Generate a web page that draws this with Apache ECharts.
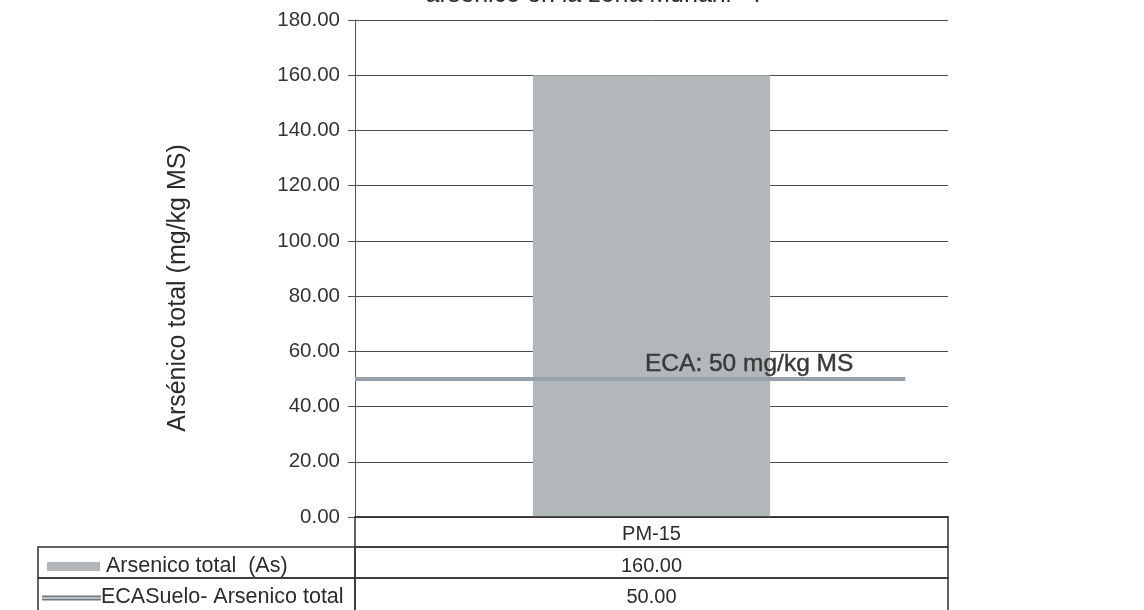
<!DOCTYPE html>
<html><head><meta charset="utf-8">
<script src="https://cdn.jsdelivr.net/npm/echarts@6/dist/echarts.min.js"></script>
<style>html,body{margin:0;padding:0;background:#fff}#c{width:1144px;height:610px}</style>
</head><body><div id="c"></div>
<script>
var titleText = 'arsénico en la zona Muñani - I';
var yAxisName = 'Arsénico total (mg/kg MS)';
var categories = ['PM-15'];
var seriesNames = ['Arsenico total  (As)', 'ECASuelo- Arsenico total'];
var arsenico = [160.00];
var eca = [50.00];
var yTicks = [0, 20, 40, 60, 80, 100, 120, 140, 160, 180];
var ecaLabel = 'ECA: 50 mg/kg MS';

var FONT = '"Liberation Sans", Arial, sans-serif';
var TXT = '#2b2b2b';
var BAR = '#b2b7ba';
var LINE = '#96a0a9';
var BORDER = '#333';

var gL = 355, gR = 948, gT = 20, gB = 517;
var rowH = [gB, 547, 578, 612];
var tblLeft = 38;

var chart = echarts.init(document.getElementById('c'), null, {renderer: 'canvas'});

var graphics = [];
// y axis title
graphics.push({type: 'text', x: 178, y: 288, rotation: Math.PI / 2,
  style: {text: yAxisName, font: '25px ' + FONT, fill: TXT, textAlign: 'center', textVerticalAlign: 'middle'}, z: 11});
// header row
graphics.push({type: 'rect', shape: {x: gL, y: rowH[0], width: gR - gL, height: rowH[1] - rowH[0]},
  style: {fill: 'none', stroke: BORDER, lineWidth: 1.5}, z: 10});
graphics.push({type: 'text', x: (gL + gR) / 2, y: (rowH[0] + rowH[1]) / 2 + 2,
  style: {text: categories[0], font: '20px ' + FONT, fill: TXT, textAlign: 'center', textVerticalAlign: 'middle'}, z: 11});
var rowVals = [arsenico, eca];
for (var r = 0; r < 2; r++) {
  var y0 = rowH[r + 1], y1 = rowH[r + 2];
  var ty = r === 0 ? 566 : 597;
  graphics.push({type: 'rect', shape: {x: tblLeft, y: y0, width: gL - tblLeft, height: y1 - y0},
    style: {fill: 'none', stroke: BORDER, lineWidth: 1.5}, z: 10});
  graphics.push({type: 'rect', shape: {x: gL, y: y0, width: gR - gL, height: y1 - y0},
    style: {fill: 'none', stroke: BORDER, lineWidth: 1.5}, z: 10});
  graphics.push({type: 'text', x: (gL + gR) / 2, y: ty,
    style: {text: rowVals[r][0].toFixed(2), font: '20px ' + FONT, fill: TXT, textAlign: 'center', textVerticalAlign: 'middle'}, z: 11});
  graphics.push({type: 'text', x: r === 0 ? 106 : 101, y: ty,
    style: {text: seriesNames[r], font: '21.5px ' + FONT, fill: TXT, textAlign: 'left', textVerticalAlign: 'middle'}, z: 11});
}
// legend keys
graphics.push({type: 'rect', shape: {x: 47, y: 562, width: 53, height: 9}, style: {fill: BAR}, z: 11});
graphics.push({type: 'line', shape: {x1: 42, y1: 598, x2: 101, y2: 598}, style: {stroke: '#6f7880', lineWidth: 5}, z: 11});
graphics.push({type: 'line', shape: {x1: 42, y1: 598, x2: 101, y2: 598}, style: {stroke: '#b8c0c6', lineWidth: 2}, z: 12});
// ECA label
graphics.push({type: 'text', x: 645, y: 364,
  style: {text: ecaLabel, font: '24.5px ' + FONT, fill: '#383838', textAlign: 'left', textVerticalAlign: 'middle', stroke: '#383838', lineWidth: 0.4}, z: 20});

chart.setOption({
  animation: false,
  backgroundColor: '#fff',
  title: {text: titleText, left: 588, textAlign: 'center', top: -22,
    textStyle: {fontFamily: FONT, fontSize: 25, fontWeight: 'normal', color: TXT}},
  grid: {left: gL, right: 1144 - gR, top: gT, bottom: 610 - gB, containLabel: false},
  xAxis: [{
    type: 'category', data: categories,
    axisLine: {show: true, lineStyle: {color: BORDER, width: 1.5}},
    axisTick: {show: false}, axisLabel: {show: false}, splitLine: {show: false}
  }, {
    type: 'value', min: 0, max: 100, show: false
  }],
  yAxis: {
    type: 'value', min: yTicks[0], max: yTicks[yTicks.length - 1], interval: yTicks[1] - yTicks[0],
    axisLine: {show: true, lineStyle: {color: '#555', width: 1}},
    axisTick: {show: true, length: 7, lineStyle: {color: '#555'}},
    axisLabel: {formatter: function (v) { return v.toFixed(2); }, fontFamily: FONT, fontSize: 20.5, color: '#333', margin: 15},
    splitLine: {show: true, lineStyle: {color: '#4a4a4a', width: 1}}
  },
  series: [{
    name: seriesNames[0], type: 'bar', data: arsenico, barWidth: '40%',
    itemStyle: {color: BAR}, z: 2
  }, {
    name: seriesNames[1], type: 'line', xAxisIndex: 1,
    data: [[0, eca[0]], [92.8, eca[0]]],
    symbol: 'none', clip: false,
    lineStyle: {color: LINE, width: 4}, z: 5
  }],
  graphic: graphics
});
</script>
</body></html>
